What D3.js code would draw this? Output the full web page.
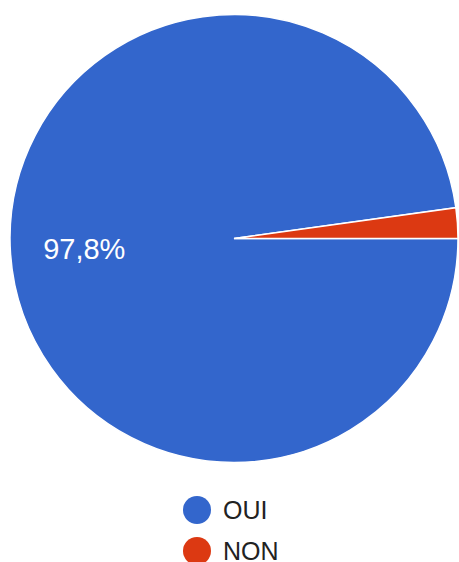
<!DOCTYPE html>
<html>
<head>
<meta charset="utf-8">
<script src="https://cdn.jsdelivr.net/npm/d3@7"></script>
<style>
  body { margin: 0; background: #fff; }
  svg { display: block; }
</style>
</head>
<body>
<svg id="chart"></svg>
<script>
var w = 459;
var h = 562;

var categories = ["OUI", "NON"];
var values = [97.8, 2.2];
var colors = ["#3366cc", "#dc3912"];

var cx = 234, cy = 238.5, radius = 224;

var svg = d3.select("#chart").attr("width", w).attr("height", h);

// pie starts at 3 o'clock, clockwise
var pie = d3.pie()
    .sort(null)
    .startAngle(Math.PI / 2)
    .endAngle(Math.PI / 2 + 2 * Math.PI);

var arc = d3.arc().innerRadius(0).outerRadius(radius);
var labelArc = d3.arc().innerRadius(radius * 0.67).outerRadius(radius * 0.67);

var data = categories.map(function(c, i) { return { name: c, value: values[i] }; });
var arcs = pie.value(function(d) { return d.value; })(data);

var g = svg.append("g").attr("transform", "translate(" + cx + "," + cy + ")");

g.selectAll("path")
    .data(arcs)
    .enter()
    .append("path")
    .attr("d", arc)
    .attr("fill", function(d, i) { return colors[i]; })
    .attr("stroke", "#fff")
    .attr("stroke-width", 1.5);

// only label big slices
g.selectAll("text.pct")
    .data(arcs.filter(function(d) { return d.data.value > 5; }))
    .enter()
    .append("text")
    .attr("class", "pct")
    .attr("transform", function(d) { return "translate(" + labelArc.centroid(d) + ")"; })
    .attr("dy", "0.36em")
    .attr("text-anchor", "middle")
    .attr("fill", "#fff")
    .style("font-family", "'Liberation Sans', Arial, sans-serif")
    .style("font-size", "29px")
    .text(function(d) { return d3.format(".1f")(d.data.value).replace(".", ",") + "%"; });

// legend
var legend = svg.append("g").attr("transform", "translate(197,510)");
var item = legend.selectAll("g")
    .data(categories)
    .enter()
    .append("g")
    .attr("transform", function(d, i) { return "translate(0," + (i * 41) + ")"; });

item.append("circle")
    .attr("r", 14)
    .attr("fill", function(d, i) { return colors[i]; });

item.append("text")
    .attr("x", 26)
    .attr("dy", "0.36em")
    .attr("fill", "#222")
    .style("font-family", "'Liberation Sans', Arial, sans-serif")
    .style("font-size", "25px")
    .text(function(d) { return d; });
</script>
</body>
</html>
